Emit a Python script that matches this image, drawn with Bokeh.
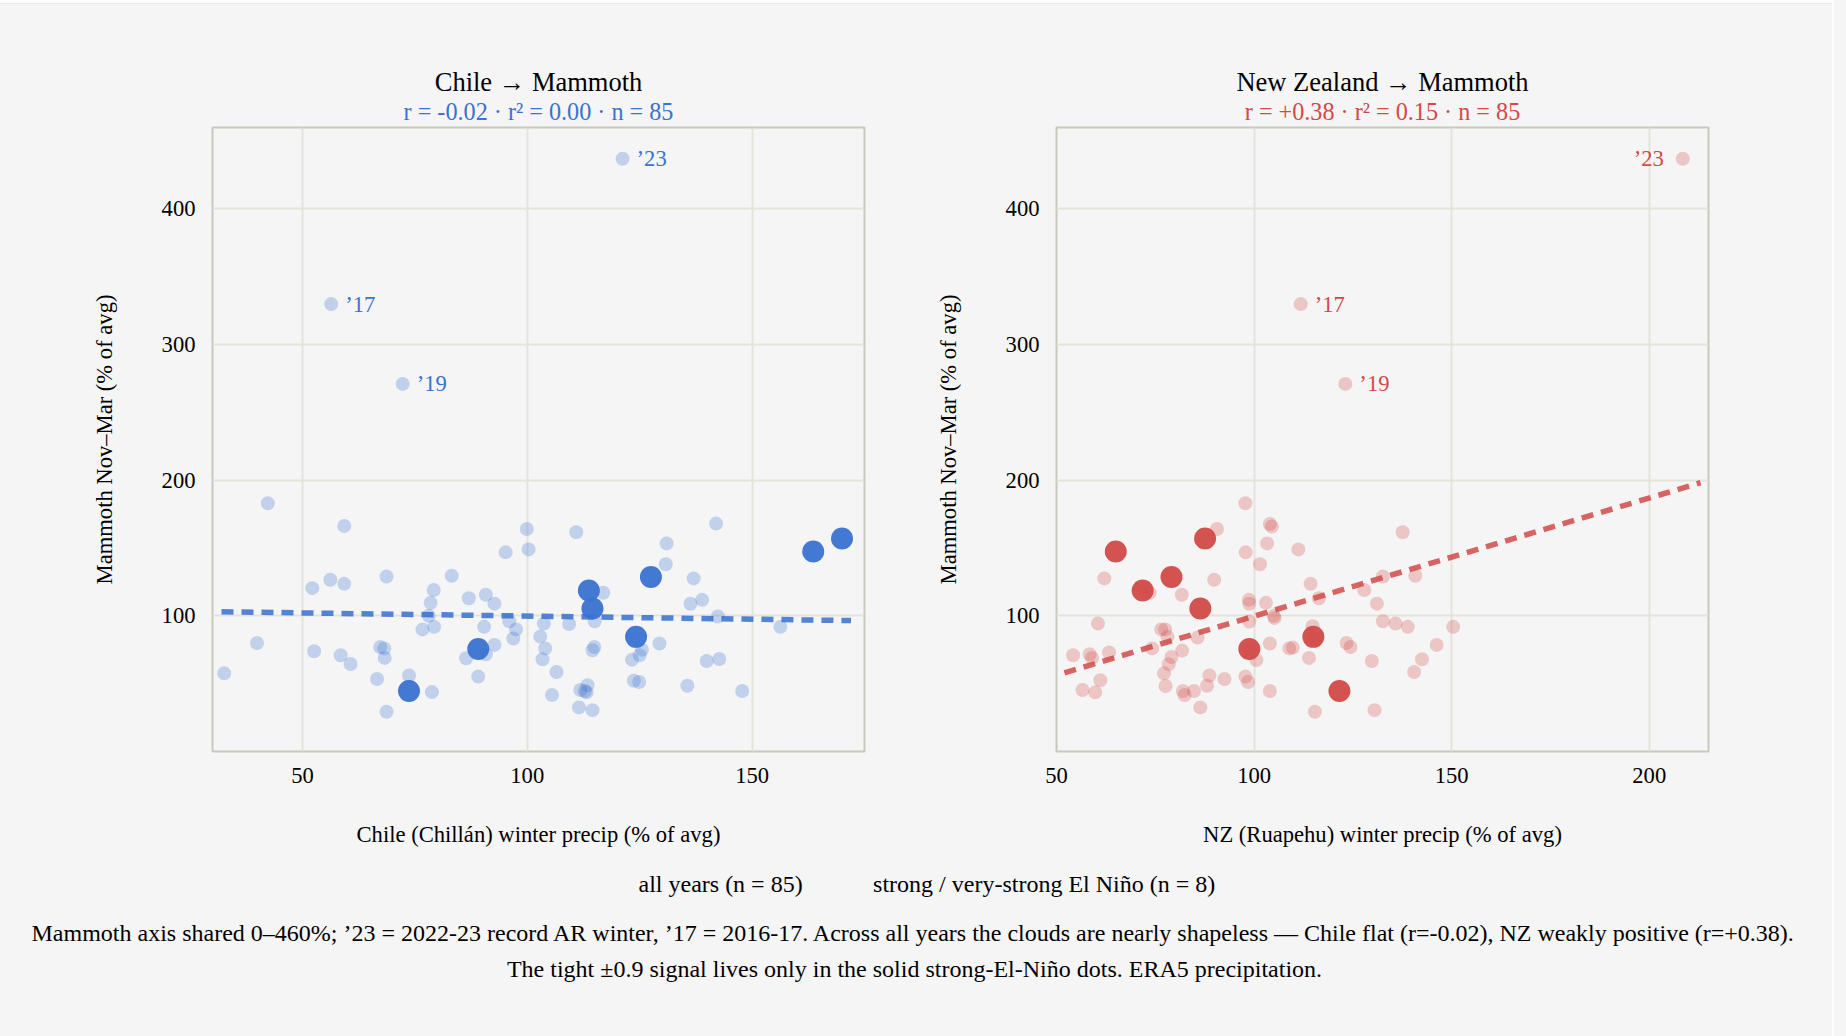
from bokeh.plotting import figure
from bokeh.layouts import column, row
from bokeh.models import Label, FixedTicker, Title
from bokeh.embed import file_html
from bokeh.resources import INLINE

BG = "#f5f5f5"
FONT = "Liberation Serif"
BLUE = "#3a72d1"
RED = "#d14a48"

# ---- data ----
chile_all_x = [42.3,59.3,99.9,110.9,142,131,95.2,100.3,130.8,56.2,52.2,59.3,68.7,83.2,137,79.2,90.8,87,92.7,78.5,116.9,138.9,136.3,142.4,78.1,115,96,103.7,109.3,156.3,79.3,76.7,90.4,97.5,96.9,102.9,39.9,129.4,92.7,67.3,68.2,52.6,104,114.9,114.5,125.5,58.5,125,90.8,86.4,68.3,103.4,123.3,139.9,142.7,60.7,32.6,106.5,73.7,66.6,89.1,123.7,124.9,135.6,113.4,111.8,112.8,113.2,147.8,78.8,105.5,111.5,114.5,68.7,121.2,56.4,72.3]
chile_all_y = [183,166.3,164,161.6,168,153.4,146.8,149,138,126.6,120.4,123.6,129,129.6,127.6,119,115.5,113,109,109.6,117,111.8,108.9,99.5,100,96,96,94.3,94,91.9,91.9,90,91.9,90,83.3,84.7,80,79.6,78.6,77,76,73.9,76,77,74.6,75,71,71,71.7,68.7,69,68,67.7,66.7,68.2,64.5,57.6,58.6,56,53.4,55.2,52.2,51.2,48.5,48.8,45.3,44.6,43.6,44.6,43.8,41.6,32.5,30.5,29.3,437,329.8,271]
chile_strong_x = [73.7,89.1,124.2,114.5,113.7,127.5,163.6,170]
strong_y = [44.6,75.6,84.5,105.4,118.7,128.6,147.5,157]
nz_strong_x = [121.6,98.8,115,86.4,71.8,79.1,65,87.6]

nz_all_x = [97.8,104,104.5,90.6,137.6,103.3,111.2,97.9,101.5,62.1,71.5,89.9,132.6,140.8,114.3,127.9,73.6,81.7,116.4,98.7,103,98.8,131.1,105,105.2,60.5,132.6,98.8,135.8,114.8,138.9,150.4,76.5,77.5,78.1,85.7,115.2,104,123.4,146.2,124.4,74.2,99,108.9,109.8,81.8,63.3,54.2,58.4,79.1,59,113.9,100.6,129.8,142.5,78.4,140.5,77.2,88.7,61.1,92.5,97.8,98.5,88.1,77.6,56.6,104,84.8,82,82.4,59.8,86.4,130.5,115.4,208.5,111.8,123.1]
nz_all_y = [183,167.7,165.8,164,161.6,153.4,149,146.8,138,127.6,120.4,126.6,129,129.6,123.6,119,117,115.5,113,111.8,109.6,108.9,109,100,98.5,94.3,96,95.8,94.3,92.4,91.9,91.9,90,90,84.5,84,83.3,79.6,80,78.6,77,76,75,76,76.6,74.4,73,71,71.7,69.7,69,69,67.5,66.7,68,64.3,58.6,57.6,56,52.5,53.4,55.2,51.2,48.5,48.3,45.3,44.6,44.6,44.6,41.6,43.6,32.5,30.5,29.3,437,329.8,271]

year_labels = ["’23", "’17", "’19"]
year_y = [437, 329.8, 271]
chile_year_x = [121.2, 56.4, 72.3]
nz_year_x = [208.5, 111.8, 123.1]

chile_trend_x = [32, 172]
chile_trend_y = [103, 96.5]
nz_trend_x = [52, 213]
nz_trend_y = [58, 198.2]

chile_xticks = [50, 100, 150]
nz_xticks = [50, 100, 150, 200]
yticks = [100, 200, 300, 400]


def panel(width, left, xr, xticks, title, sub, xlabel, color, ax, ay, sx, sy, tx, ty, line_alpha,
          year_x, year_dx, year_align):
    p = figure(width=width, height=862, frame_width=652, frame_height=624,
               x_range=xr, y_range=(0, 460), output_backend="svg", toolbar_location=None,
               min_border_left=left, min_border_top=119, min_border_bottom=119,
               min_border_right=width - left - 652,
               background_fill_color=BG, border_fill_color=BG,
               styles={"background-color": BG})
    p.outline_line_color = "#c9c9bb"
    p.outline_line_width = 2
    for g in (p.xgrid[0], p.ygrid[0]):
        g.grid_line_color = "#e3e3dc"
        g.grid_line_width = 2
    p.xgrid[0].ticker = FixedTicker(ticks=xticks)
    p.ygrid[0].ticker = FixedTicker(ticks=yticks)
    p.xaxis[0].ticker = FixedTicker(ticks=xticks)
    p.yaxis[0].ticker = FixedTicker(ticks=yticks)
    for a in (p.xaxis[0], p.yaxis[0]):
        a.axis_line_color = None
        a.major_tick_line_color = None
        a.minor_tick_line_color = None
        a.major_tick_out = 0
        a.major_tick_in = 0
        a.major_label_text_font = FONT
        a.major_label_text_font_size = "22.6px"
        a.major_label_text_color = "#000000"
        a.axis_label_text_font = FONT
        a.axis_label_text_font_size = "22.6px"
        a.axis_label_text_font_style = "normal"
        a.axis_label_text_color = "#000000"
    p.xaxis[0].axis_label = xlabel
    p.yaxis[0].axis_label = "Mammoth Nov–Mar (% of avg)"
    p.xaxis[0].major_label_standoff = 16
    p.yaxis[0].major_label_standoff = 17
    p.xaxis[0].axis_label_standoff = 36
    p.yaxis[0].axis_label_standoff = 42

    p.scatter(ax, ay, size=14, fill_color=color, fill_alpha=0.28, line_color=None)
    p.line(tx, ty, line_color=color, line_width=5.5, line_alpha=line_alpha, line_dash=[12, 8])
    p.scatter(sx, sy, size=22, fill_color=color, fill_alpha=0.95, line_color=None)
    p.text(year_x, year_y, text=year_labels, text_font=FONT, text_font_size="22.6px", text_color=color,
           x_offset=year_dx, text_align=year_align, text_baseline="middle")
    p.add_layout(Title(text=sub, align="center", text_font=FONT, text_font_size="24.2px",
                       text_font_style="normal", text_color=color, standoff=5), "above")
    p.add_layout(Title(text=title, align="center", text_font=FONT, text_font_size="26.5px",
                       text_font_style="normal", text_color="#000000", standoff=-6), "above")
    return p


p1 = panel(915, 204, (30, 175), chile_xticks, "Chile → Mammoth", "r = -0.02 · r² = 0.00 · n = 85",
           "Chile (Chillán) winter precip (% of avg)", BLUE, chile_all_x, chile_all_y, chile_strong_x, strong_y,
           chile_trend_x, chile_trend_y, 0.87, chile_year_x, [14, 14, 14], ["left", "left", "left"])
p2 = panel(915, 133, (50, 215), nz_xticks, "New Zealand → Mammoth", "r = +0.38 · r² = 0.15 · n = 85",
           "NZ (Ruapehu) winter precip (% of avg)", RED, nz_all_x, nz_all_y, nz_strong_x, strong_y,
           nz_trend_x, nz_trend_y, 0.85, nz_year_x, [-19, 14, 14], ["right", "left", "left"])

foot = figure(width=1830, height=158, x_range=(0, 1), y_range=(0, 1), output_backend="svg", toolbar_location=None,
              min_border=0, background_fill_color=BG, border_fill_color=BG, x_axis_location=None, y_axis_location=None,
              styles={"background-color": BG})
foot.outline_line_color = None
foot.grid.visible = False
foot_lines = [
    ("all years (n = 85)", 630, 145, "left"),
    ("strong / very-strong El Niño (n = 8)", 864.6, 145, "left"),
    ("Mammoth axis shared 0–460%; ’23 = 2022-23 record AR winter, ’17 = 2016-17. Across all years the clouds are nearly shapeless — Chile flat (r=-0.02), NZ weakly positive (r=+0.38).", 905.5, 96, "center"),
    ("The tight ±0.9 signal lives only in the solid strong-El-Niño dots. ERA5 precipitation.", 906, 60, "center"),
]
for t, x, y, al in foot_lines:
    foot.add_layout(Label(x=x, y=y, x_units="screen", y_units="screen", text=t, text_font=FONT,
                          text_font_size="24px", text_color="#000000", text_align=al, text_baseline="middle"))

layout = column(row(p1, p2, spacing=0, styles={"background-color": BG}), foot, spacing=0,
                styles={"background-color": BG})
html = file_html(layout, INLINE)
css = (f"<style>html,body{{background:{BG} !important;overflow:hidden}}html{{margin:0}}body{{margin:8px}}"
       "body::before{content:'';position:fixed;left:0;top:0;width:1832px;height:3px;background:#fbfbfb;border-bottom:1px solid #e9e9e3;z-index:5}"
       "body::after{content:'';position:fixed;left:1832px;top:0;width:2px;height:100%;background:#fcfcfc;z-index:5}</style>")
html = html.replace("</head>", css + "</head>", 1)
open("out.html", "w").write(html)
